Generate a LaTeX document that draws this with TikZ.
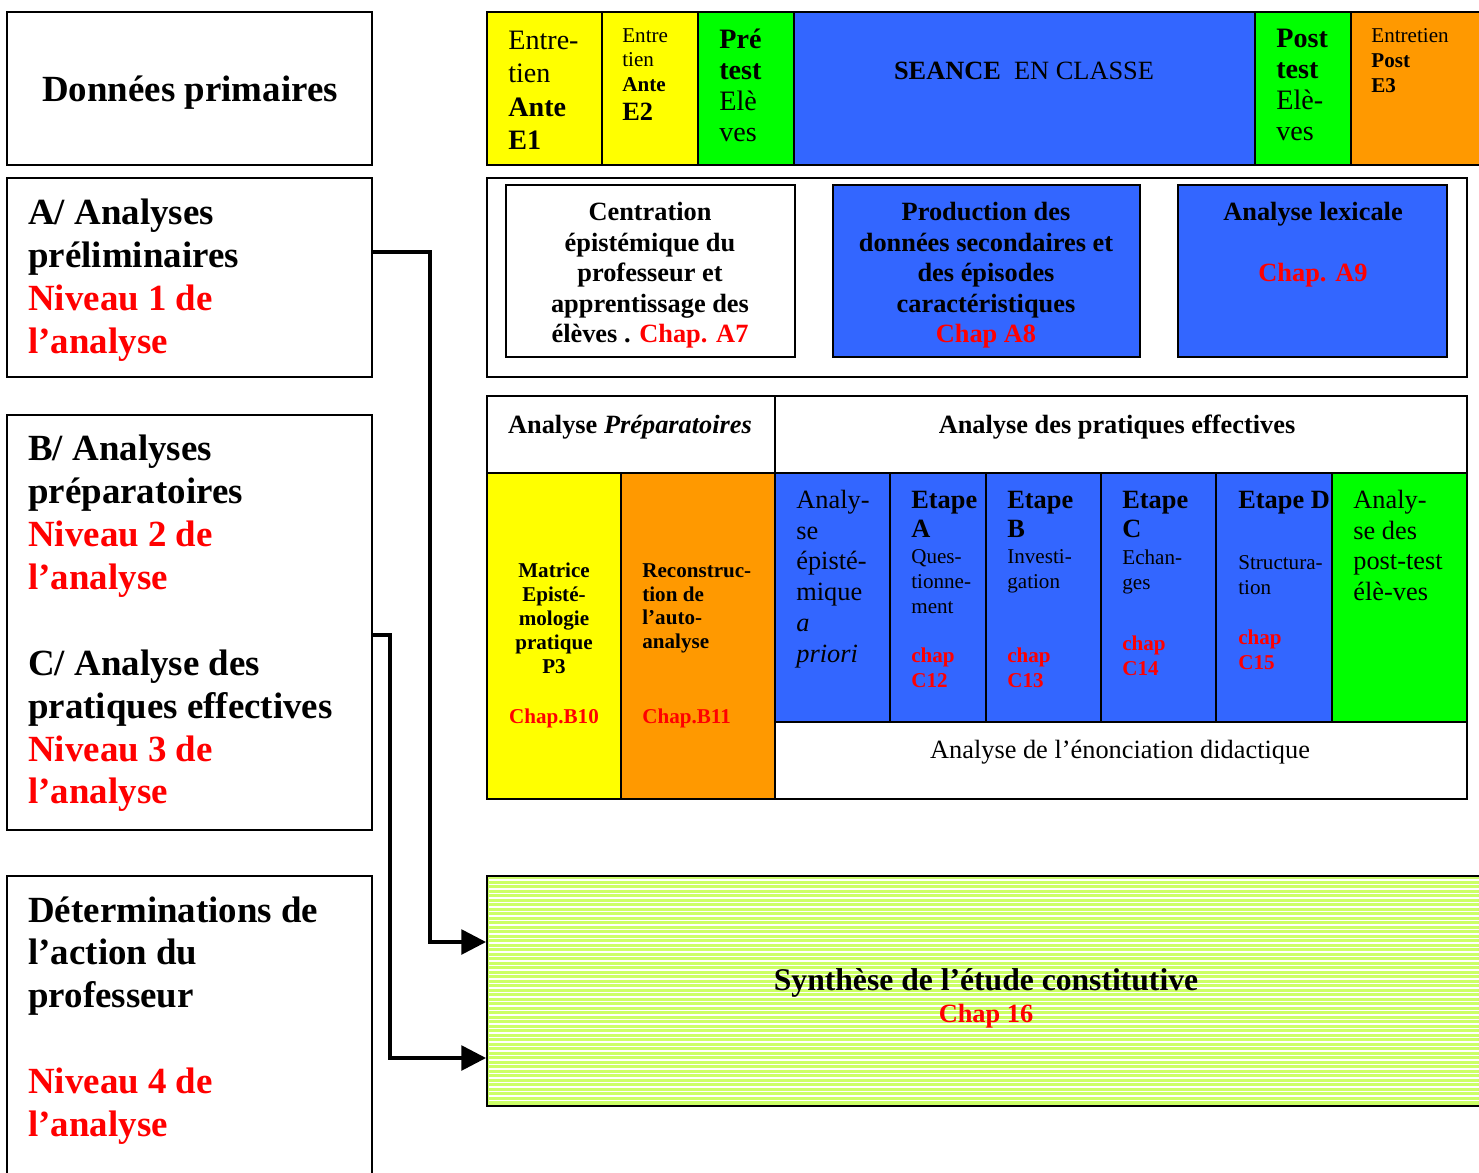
\documentclass[tikz,border=0pt]{standalone}
\usepackage{fontspec}
\setmainfont{Liberation Serif}
\usetikzlibrary{arrows.meta, positioning, fit}

\definecolor{jaune}{RGB}{255,255,0}
\definecolor{vertvif}{RGB}{0,255,0}
\definecolor{bleu}{RGB}{51,102,255}
\definecolor{orangeC}{RGB}{255,153,0}
\definecolor{rouge}{RGB}{255,0,0}
\definecolor{vertclair}{RGB}{204,255,102}
\newcommand{\fsz}[2]{\fontsize{#1}{#2}\selectfont}
\newcommand{\rg}[1]{\textcolor{rouge}{#1}}

\begin{document}
\begin{tikzpicture}[x=0.02cm, y=-0.02cm,
  cell/.style={draw, line width=1.1pt, inner sep=0pt},
  txt/.style={inner sep=0pt, align=left, anchor=north west},
  ctxt/.style={inner sep=0pt, align=center},
  chaptxt/.style={txt, font=\fsz{12}{14.2}\bfseries, text=rouge},
  flow/.style={line width=2pt, -{Triangle[length=14pt, width=14pt]}}]
  \useasboundingbox (0,0) rectangle (1479,1172);
  \clip (0,0) rectangle (1479,1172);

  % left column
  \node[cell, fit={(7,12) (372,165)}] (donnees) {};
  \node[cell, fit={(7,178) (372,377)}] (prelim) {};
  \node[cell, fit={(7,415) (372,830)}] (prepa) {};
  \node[cell, fit={(7,876) (372,1180)}] (determ) {};
  \node[ctxt, font=\fsz{21}{24.4}\bfseries] (t-donnees) at (190,93)
    {Données primaires};
  \node[txt, font=\fsz{21}{24.4}\bfseries] (t-prelim) at (28,199)
    {A/ Analyses\\préliminaires\\\rg{Niveau 1 de}\\\rg{l'analyse}};
  \node[txt, font=\fsz{21}{24.4}\bfseries] (t-prepa) at (28,435)
    {B/ Analyses\\préparatoires\\\rg{Niveau 2 de}\\\rg{l'analyse}\\[24.4pt]
     C/ Analyse des\\pratiques effectives\\\rg{Niveau 3 de}\\\rg{l'analyse}};
  \node[txt, font=\fsz{21}{24.4}\bfseries] (t-determ) at (28,896)
    {Déterminations de\\l'action du\\professeur\\[24.4pt]
     \rg{Niveau 4 de}\\\rg{l'analyse}};

  % top row: data collection
  \node[cell, fill=jaune, fit={(487,12) (602,165)}] (e1) {};
  \node[cell, fill=jaune, fit={(602,12) (698,165)}] (e2) {};
  \node[cell, fill=vertvif, fit={(698,12) (794,165)}] (pretest) {};
  \node[cell, fill=bleu, fit={(794,12) (1255,165)}] (seance) {};
  \node[cell, fill=vertvif, fit={(1255,12) (1351,165)}] (posttest) {};
  \node[cell, fill=orangeC, fit={(1351,12) (1490,165)}] (e3) {};
  \node[txt, font=\fsz{16}{19}] (t-e1) at (508,30.5)
    {Entre-\\tien\\\textbf{Ante}\\\textbf{E1}};
  \node[txt, font=\fsz{12}{13.8}] (t-e2) at (622,28.5)
    {Entre\\tien\\\textbf{Ante}\\[3pt]{\fsz{15}{15}\bfseries E2}};
  \node[txt, font=\fsz{16}{17.6}] (t-pretest) at (719,28.5)
    {\textbf{Pré}\\\textbf{test}\\Elè\\ves};
  \node[ctxt, font=\fsz{15}{17}] (t-seance) at (1024,71)
    {\textbf{SEANCE}\ \ EN CLASSE};
  \node[txt, font=\fsz{16}{17.6}] (t-posttest) at (1276,28.5)
    {\textbf{Post}\\\textbf{test}\\Elè-\\ves};
  \node[txt, font=\fsz{12}{14.2}] (t-e3) at (1371,28)
    {Entretien\\\textbf{Post}\\\textbf{E3}};

  % level A
  \node[cell, fit={(487,178) (1467,377)}] (rangA) {};
  \node[cell, fill=white, fit={(506,185) (795,357)}] (centration) {};
  \node[cell, fill=bleu, fit={(833,185) (1140,357)}] (production) {};
  \node[cell, fill=bleu, fit={(1178,185) (1447,357)}] (lexicale) {};
  \node[ctxt, anchor=north, font=\fsz{15}{17.4}\bfseries] (t-centration) at (650,202)
    {Centration\\épistémique du\\professeur et\\apprentissage des\\élèves . \rg{Chap. A7}};
  \node[ctxt, anchor=north, font=\fsz{15}{17.4}\bfseries] (t-production) at (986,202)
    {Production des\\données secondaires et\\des épisodes\\caractéristiques\\\rg{Chap A8}};
  \node[ctxt, anchor=north, font=\fsz{15}{17.4}\bfseries] (t-lexicale) at (1313,202)
    {Analyse lexicale\\[17.4pt]\rg{Chap. A9}};

  % levels B and C
  \node[cell, fit={(487,396) (775,473)}] (hprep) {};
  \node[cell, fit={(775,396) (1467,473)}] (heff) {};
  \node[cell, fill=jaune, fit={(487,473) (621,799)}] (matrice) {};
  \node[cell, fill=orangeC, fit={(621,473) (775,799)}] (reconstr) {};
  \node[cell, fill=bleu, fit={(775,473) (890,722)}] (apriori) {};
  \node[cell, fill=bleu, fit={(890,473) (986,722)}] (etapeA) {};
  \node[cell, fill=bleu, fit={(986,473) (1101,722)}] (etapeB) {};
  \node[cell, fill=bleu, fit={(1101,473) (1216,722)}] (etapeC) {};
  \node[cell, fill=bleu, fit={(1216,473) (1332,722)}] (etapeD) {};
  \node[cell, fill=vertvif, fit={(1332,473) (1467,722)}] (postana) {};
  \node[cell, fit={(775,722) (1467,799)}] (enonc) {};

  \node[ctxt, font=\fsz{15}{17}\bfseries] (t-hprep) at (630,427)
    {Analyse \textit{Préparatoires}};
  \node[ctxt, font=\fsz{15}{17}\bfseries] (t-heff) at (1117,427)
    {Analyse des pratiques effectives};
  \node[ctxt, anchor=north, font=\fsz{12}{13.6}\bfseries] (t-matrice) at (554,563)
    {Matrice\\Episté-\\mologie\\pratique\\P3\\[15pt]\rg{Chap.B10}};
  \node[txt, font=\fsz{12}{13.6}\bfseries] (t-reconstr) at (642,563)
    {Reconstruc-\\tion de\\l'auto-\\analyse\\[29pt]\rg{Chap.B11}};
  \node[txt, font=\fsz{15}{17.6}] (t-apriori) at (796,489.5)
    {Analy-\\se\\épisté-\\mique\\\textit{a}\\\textit{priori}};

  \node[txt, font=\fsz{15}{17}\bfseries] (h-etapeA) at (911,490.5) {Etape\\A};
  \node[txt, font=\fsz{12}{14.2}] (d-etapeA) at (911,549.5) {Ques-\\tionne-\\ment};
  \node[chaptxt] (c-etapeA) at (911,647.5) {chap\\C12};
  \node[txt, font=\fsz{15}{17}\bfseries] (h-etapeB) at (1007,490.5) {Etape\\B};
  \node[txt, font=\fsz{12}{14.2}] (d-etapeB) at (1007,549.5) {Investi-\\gation};
  \node[chaptxt] (c-etapeB) at (1007,647.5) {chap\\C13};
  \node[txt, font=\fsz{15}{17}\bfseries] (h-etapeC) at (1122,490.5) {Etape\\C};
  \node[txt, font=\fsz{12}{14.2}] (d-etapeC) at (1122,549.5) {Echan-\\ges};
  \node[chaptxt] (c-etapeC) at (1122,635.5) {chap\\C14};
  \node[txt, font=\fsz{15}{17}\bfseries] (h-etapeD) at (1238,490.5) {Etape D};
  \node[txt, font=\fsz{12}{14.2}] (d-etapeD) at (1238,555.5) {Structura-\\tion};
  \node[chaptxt] (c-etapeD) at (1238,629.5) {chap\\C15};
  \node[txt, font=\fsz{15}{17.6}] (t-postana) at (1353,489.5)
    {Analy-\\se des\\post-test\\élè-ves};
  \node[ctxt, font=\fsz{15}{17}] (t-enonc) at (1120,752)
    {Analyse de l'énonciation didactique};

  % synthesis
  \node[cell, fill=vertclair, fit={(487,876) (1490,1106)}] (synth) {};
  \foreach \ys in {880,884.5,...,1104}
    \draw[white, line width=0.8pt] (489,\ys) -- (1479,\ys);
  \node[ctxt, font=\fsz{18}{20}\bfseries] (t-synth) at (986,983)
    {Synthèse de l'étude constitutive};
  \node[ctxt, font=\fsz{15}{17}\bfseries, text=rouge] (c-synth) at (986,1016)
    {Chap 16};

  % connectors
  \coordinate (coudeA) at (430,252);
  \coordinate (coudeB) at (390,635);
  \coordinate (entreeA) at (487,942);
  \coordinate (entreeB) at (487,1058);
  \draw[flow] (prelim.east |- coudeA) -- (coudeA) |- (synth.west |- entreeA);
  \draw[flow] (prepa.east |- coudeB) -- (coudeB) |- (synth.west |- entreeB);
\end{tikzpicture}
\end{document}
